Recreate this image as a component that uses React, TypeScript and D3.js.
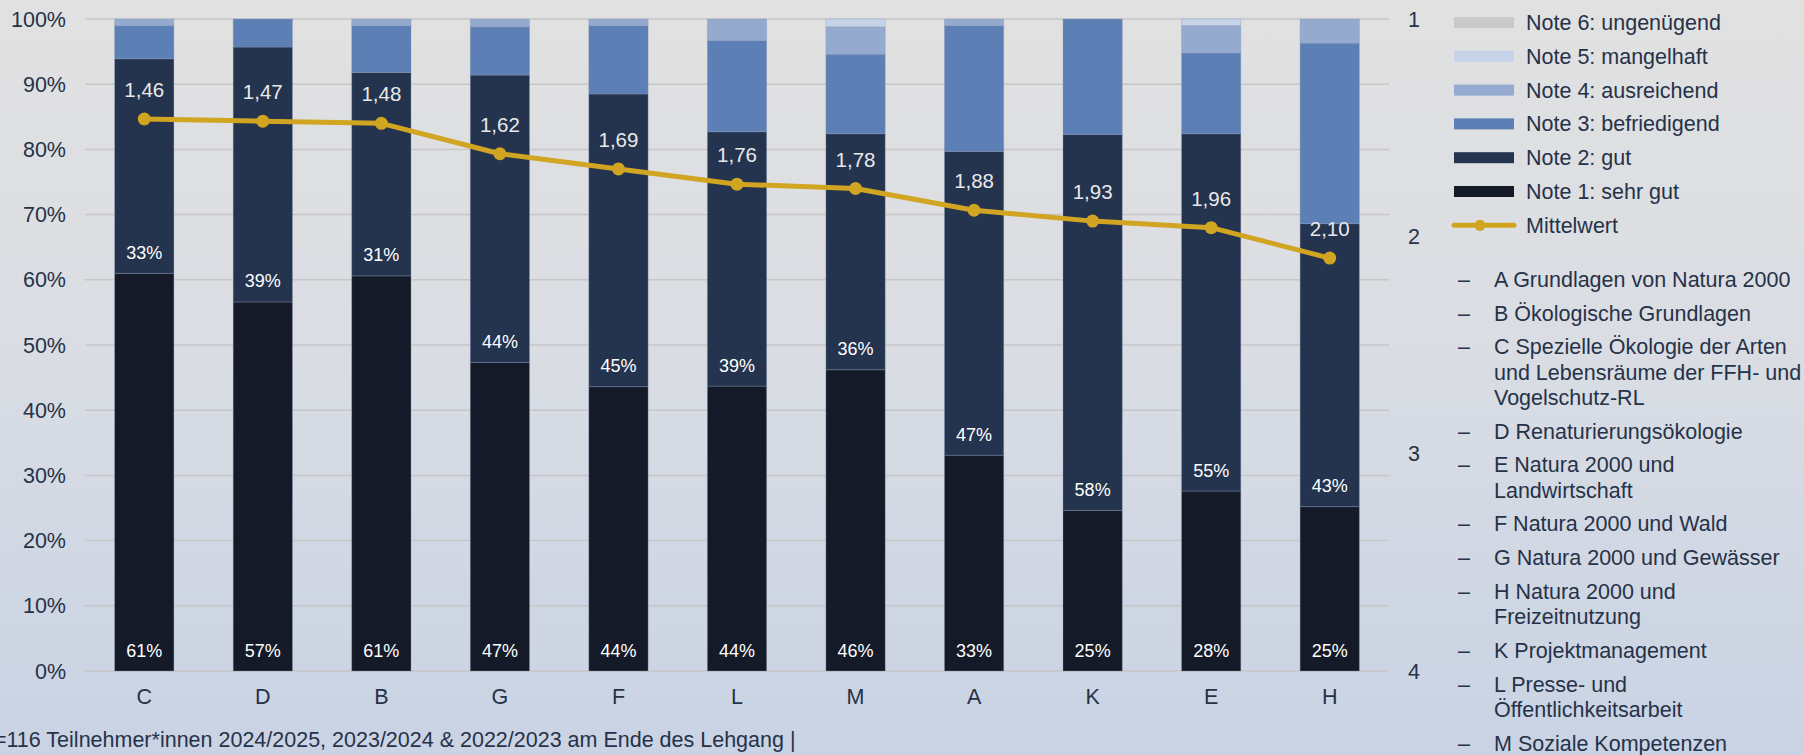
import React from "react";
import * as d3 from "d3";

const categories = ["C", "D", "B", "G", "F", "L", "M", "A", "K", "E", "H"];
const note1 = [61.0, 56.6, 60.6, 47.3, 43.6, 43.7, 46.2, 33.1, 24.6, 27.6, 25.2];
const note2 = [32.9, 39.1, 31.2, 44.1, 44.9, 39.0, 36.2, 46.6, 57.7, 54.8, 43.4];
const note3 = [5.1, 4.3, 7.2, 7.4, 10.5, 14.0, 12.2, 19.3, 17.7, 12.4, 27.7];
const note4 = [1.0, 0, 1.0, 1.2, 1.0, 3.3, 4.2, 1.0, 0, 4.2, 3.7];
const note5 = [0, 0, 0, 0, 0, 0, 1.2, 0, 0, 1.0, 0];
const note6 = [0, 0, 0, 0, 0, 0, 0, 0, 0, 0, 0];
const means = [1.46, 1.47, 1.48, 1.62, 1.69, 1.76, 1.78, 1.88, 1.93, 1.96, 2.1];

const seriesNames = [
  "Note 1: sehr gut",
  "Note 2: gut",
  "Note 3: befriedigend",
  "Note 4: ausreichend",
  "Note 5: mangelhaft",
  "Note 6: ungenügend",
];
const seriesColors = ["#141a27", "#24334e", "#5c7fb5", "#94aace", "#c6d3e8", "#c9c9c9"];
const meanName = "Mittelwert";
const meanColor = "#d1a521";

const leftTicks = [0, 10, 20, 30, 40, 50, 60, 70, 80, 90, 100];
const rightTicks = [1, 2, 3, 4];

const moduleList = [
  ["A Grundlagen von Natura 2000"],
  ["B Ökologische Grundlagen"],
  ["C Spezielle Ökologie der Arten", "und Lebensräume der FFH- und", "Vogelschutz-RL"],
  ["D Renaturierungsökologie"],
  ["E Natura 2000 und", "Landwirtschaft"],
  ["F Natura 2000 und Wald"],
  ["G Natura 2000 und Gewässer"],
  ["H Natura 2000 und", "Freizeitnutzung"],
  ["K Projektmanagement"],
  ["L Presse- und", "Öffentlichkeitsarbeit"],
  ["M Soziale Kompetenzen"],
];

const footer = "n=116 Teilnehmer*innen 2024/2025, 2023/2024 & 2022/2023 am Ende des Lehgang |";

const W = 1804;
const H = 755;
const FONT = "'Liberation Sans', Arial, sans-serif";
const TXT = "#263248";

export default function App() {
  const x = d3.scaleBand<string>().domain(categories).range([85, 1389]).paddingInner(0.5).paddingOuter(0.25);
  const y = d3.scaleLinear().domain([0, 100]).range([671, 19]);
  const yR = d3.scaleLinear().domain([1, 4]).range([19, 671]);

  const table = categories.map((c, i) => ({
    cat: c,
    s0: note1[i],
    s1: note2[i],
    s2: note3[i],
    s3: note4[i],
    s4: note5[i],
    s5: note6[i],
  }));
  const stack = d3.stack<any>().keys(["s0", "s1", "s2", "s3", "s4", "s5"])(table);

  const line = d3
    .line<number>()
    .x((_, i) => (x(categories[i]) as number) + x.bandwidth() / 2)
    .y((d) => yR(d));

  const bw = x.bandwidth();

  let listY = 287;
  const listItems: { lines: string[]; y: number }[] = [];
  moduleList.forEach((lines) => {
    listItems.push({ lines, y: listY });
    listY += 33.7 + (lines.length - 1) * 25.3;
  });

  return (
    <div style={{ position: "absolute", left: 0, top: 0, width: W, height: H, overflow: "hidden" }}>
      <svg width={W} height={H} style={{ display: "block" }} fontFamily={FONT}>
        <defs>
          <linearGradient id="bg" x1="0" y1="0" x2="0" y2="1">
            <stop offset="0" stopColor="#e1e1e1" />
            <stop offset="0.45" stopColor="#dadde3" />
            <stop offset="1" stopColor="#c9d3e4" />
          </linearGradient>
        </defs>
        <rect x={0} y={0} width={W} height={H} fill="url(#bg)" />

        {leftTicks.map((t) => (
          <line key={"g" + t} x1={85} x2={1389} y1={y(t)} y2={y(t)} stroke="#c6c6c6" strokeWidth={1.5} />
        ))}

        {leftTicks.map((t) => (
          <text key={"l" + t} x={66} y={y(t)} dy="0.35em" textAnchor="end" fontSize={21.5} fill={TXT}>
            {t + "%"}
          </text>
        ))}

        {rightTicks.map((t) => (
          <text key={"r" + t} x={1414} y={yR(t)} dy="0.35em" textAnchor="middle" fontSize={21.5} fill={TXT}>
            {t}
          </text>
        ))}

        {stack.map((layer, si) => (
          <g key={"s" + si} fill={seriesColors[si]}>
            {layer.map((d, i) => {
              const h = y(d[0]) - y(d[1]);
              if (h <= 0) return null;
              return (
                <rect
                  key={i}
                  x={x(categories[i])}
                  y={y(d[1])}
                  width={bw}
                  height={h}
                  stroke="#8a9ab8"
                  strokeOpacity={0.45}
                  strokeWidth={0.8}
                />
              );
            })}
          </g>
        ))}

        {stack.slice(0, 2).map((layer, si) =>
          layer.map((d, i) => (
            <text
              key={"p" + si + "-" + i}
              x={(x(categories[i]) as number) + bw / 2}
              y={y(d[0]) - 14.5}
              textAnchor="middle"
              fontSize={18}
              fill="#ffffff"
            >
              {Math.round(d[1] - d[0]) + "%"}
            </text>
          ))
        )}

        {categories.map((c) => (
          <text key={"x" + c} x={(x(c) as number) + bw / 2} y={704} textAnchor="middle" fontSize={21.5} fill={TXT}>
            {c}
          </text>
        ))}

        <path d={line(means) || ""} fill="none" stroke={meanColor} strokeWidth={5} strokeLinejoin="round" />
        {means.map((m, i) => (
          <circle key={"m" + i} cx={(x(categories[i]) as number) + bw / 2} cy={yR(m)} r={6.5} fill={meanColor} />
        ))}
        {means.map((m, i) => (
          <text
            key={"ml" + i}
            x={(x(categories[i]) as number) + bw / 2}
            y={yR(m) - 22}
            textAnchor="middle"
            fontSize={20.5}
            fill="#e9e9ea"
          >
            {m.toFixed(2).replace(".", ",")}
          </text>
        ))}

        {seriesNames
          .map((n, i) => ({ n, c: seriesColors[i] }))
          .reverse()
          .map((s, k) => {
            const cy = 22.5 + k * 33.8;
            return (
              <g key={"lg" + k}>
                <rect x={1454} y={cy - 5.5} width={60} height={11} fill={s.c} />
                <text x={1526} y={cy + 7.5} fontSize={21.5} fill={TXT}>
                  {s.n}
                </text>
              </g>
            );
          })}
        {(() => {
          const cy = 22.5 + 6 * 33.8;
          return (
            <g>
              <line x1={1454} x2={1514} y1={cy} y2={cy} stroke={meanColor} strokeWidth={5} strokeLinecap="round" />
              <circle cx={1480} cy={cy} r={5.5} fill={meanColor} />
              <text x={1526} y={cy + 7.5} fontSize={21.5} fill={TXT}>
                {meanName}
              </text>
            </g>
          );
        })()}

        {listItems.map((it, k) => (
          <g key={"li" + k}>
            <text x={1458} y={it.y} fontSize={21.5} fill={TXT}>
              –
            </text>
            {it.lines.map((ln, j) => (
              <text key={j} x={1494} y={it.y + j * 25.3} fontSize={21.5} fill={TXT}>
                {ln}
              </text>
            ))}
          </g>
        ))}

        <text x={-18} y={747} fontSize={21.5} fill={TXT}>
          {footer}
        </text>
      </svg>
    </div>
  );
}
